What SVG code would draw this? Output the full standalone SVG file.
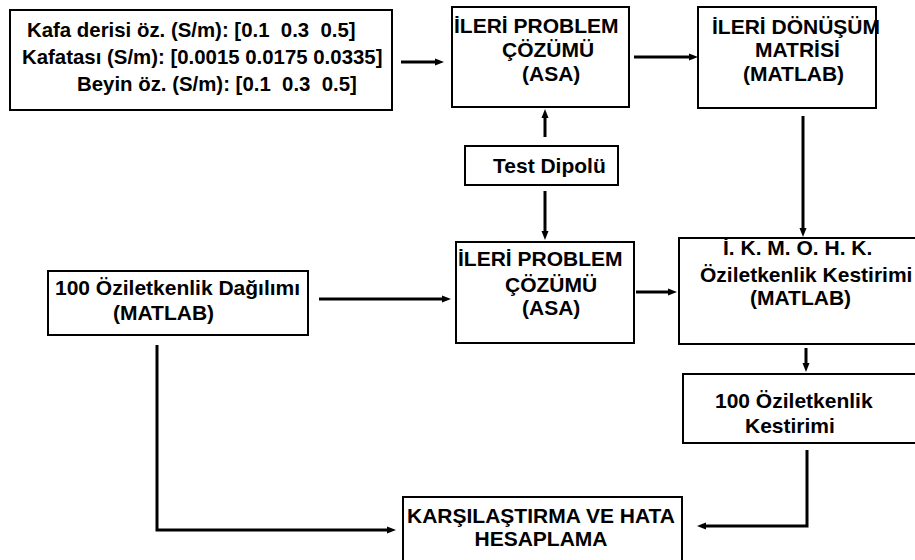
<svg xmlns="http://www.w3.org/2000/svg" width="915" height="560" viewBox="0 0 915 560">
<defs>
<style>
.box{fill:#fff;stroke:#000;stroke-width:2}
.t{font-family:"Liberation Sans",Arial,sans-serif;font-weight:bold;font-size:21px;fill:#000;white-space:pre}
.s{font-size:20.4px}
.c{fill:none;stroke:#000;stroke-width:3;marker-end:url(#ah)}
</style>
<marker id="ah" markerUnits="userSpaceOnUse" markerWidth="9" markerHeight="8" refX="0" refY="4" orient="auto">
<path d="M0,0.5 L9,4 L0,7.5 z" fill="#000"/>
</marker>
</defs>
<rect width="915" height="560" fill="#fff"/>
<g id="connectors">
<path class="c" d="M401,62 H435"/>
<path class="c" d="M634,57 H689"/>
<path class="c" d="M545,137 V118"/>
<path class="c" d="M545,191 V231"/>
<path class="c" d="M803,116 V228"/>
<path class="c" d="M319,299 H442"/>
<path class="c" d="M636,292 H668"/>
<path class="c" d="M806,348 V363"/>
<path class="c" d="M157,345 V530 H387"/>
<path class="c" d="M807,450 V526 H706"/>
</g>
<g id="n1">
<rect class="box" x="10" y="10" width="382" height="100"/>
<text class="t s" x="27" y="37" xml:space="preserve">Kafa derisi öz. (S/m): [0.1  0.3  0.5]</text>
<text class="t s" x="22" y="64" xml:space="preserve">Kafatası (S/m): [0.0015 0.0175 0.0335]</text>
<text class="t s" x="77" y="91" xml:space="preserve">Beyin öz. (S/m): [0.1  0.3  0.5]</text>
</g>
<g id="n2">
<rect class="box" x="452" y="7" width="177" height="100"/>
<text class="t" x="454" y="33">İLERİ PROBLEM</text>
<text class="t" x="502" y="57">ÇÖZÜMÜ</text>
<text class="t" x="522" y="81">(ASA)</text>
</g>
<g id="n3">
<rect class="box" x="698" y="7" width="178" height="101"/>
<text class="t" x="712" y="34">İLERİ DÖNÜŞÜM</text>
<text class="t" x="755" y="57">MATRİSİ</text>
<text class="t" x="743" y="81">(MATLAB)</text>
</g>
<g id="n4">
<rect class="box" x="465" y="146" width="153" height="39"/>
<text class="t" x="493" y="173">Test Dipolü</text>
</g>
<g id="n5">
<rect class="box" x="456" y="242" width="178" height="101"/>
<text class="t" x="458" y="266">İLERİ PROBLEM</text>
<text class="t" x="505" y="292">ÇÖZÜMÜ</text>
<text class="t" x="522" y="315">(ASA)</text>
</g>
<g id="n6">
<rect class="box" x="679" y="238" width="245" height="106"/>
<text class="t" x="723" y="255">İ. K. M. O. H. K.</text>
<text class="t" x="700" y="282">Öziletkenlik Kestirimi</text>
<text class="t" x="750" y="305">(MATLAB)</text>
</g>
<g id="n7">
<rect class="box" x="683" y="374" width="245" height="69"/>
<text class="t" x="715" y="408">100 Öziletkenlik</text>
<text class="t" x="745" y="433">Kestirimi</text>
</g>
<g id="n8">
<rect class="box" x="48" y="271" width="260" height="64"/>
<text class="t" x="55" y="295">100 Öziletkenlik Dağılımı</text>
<text class="t" x="113" y="320">(MATLAB)</text>
</g>
<g id="n9">
<rect class="box" x="403" y="497" width="279" height="75"/>
<text class="t" x="541" y="523" text-anchor="middle">KARŞILAŞTIRMA VE HATA</text>
<text class="t" x="541" y="546" text-anchor="middle">HESAPLAMA</text>
</g>
</svg>
